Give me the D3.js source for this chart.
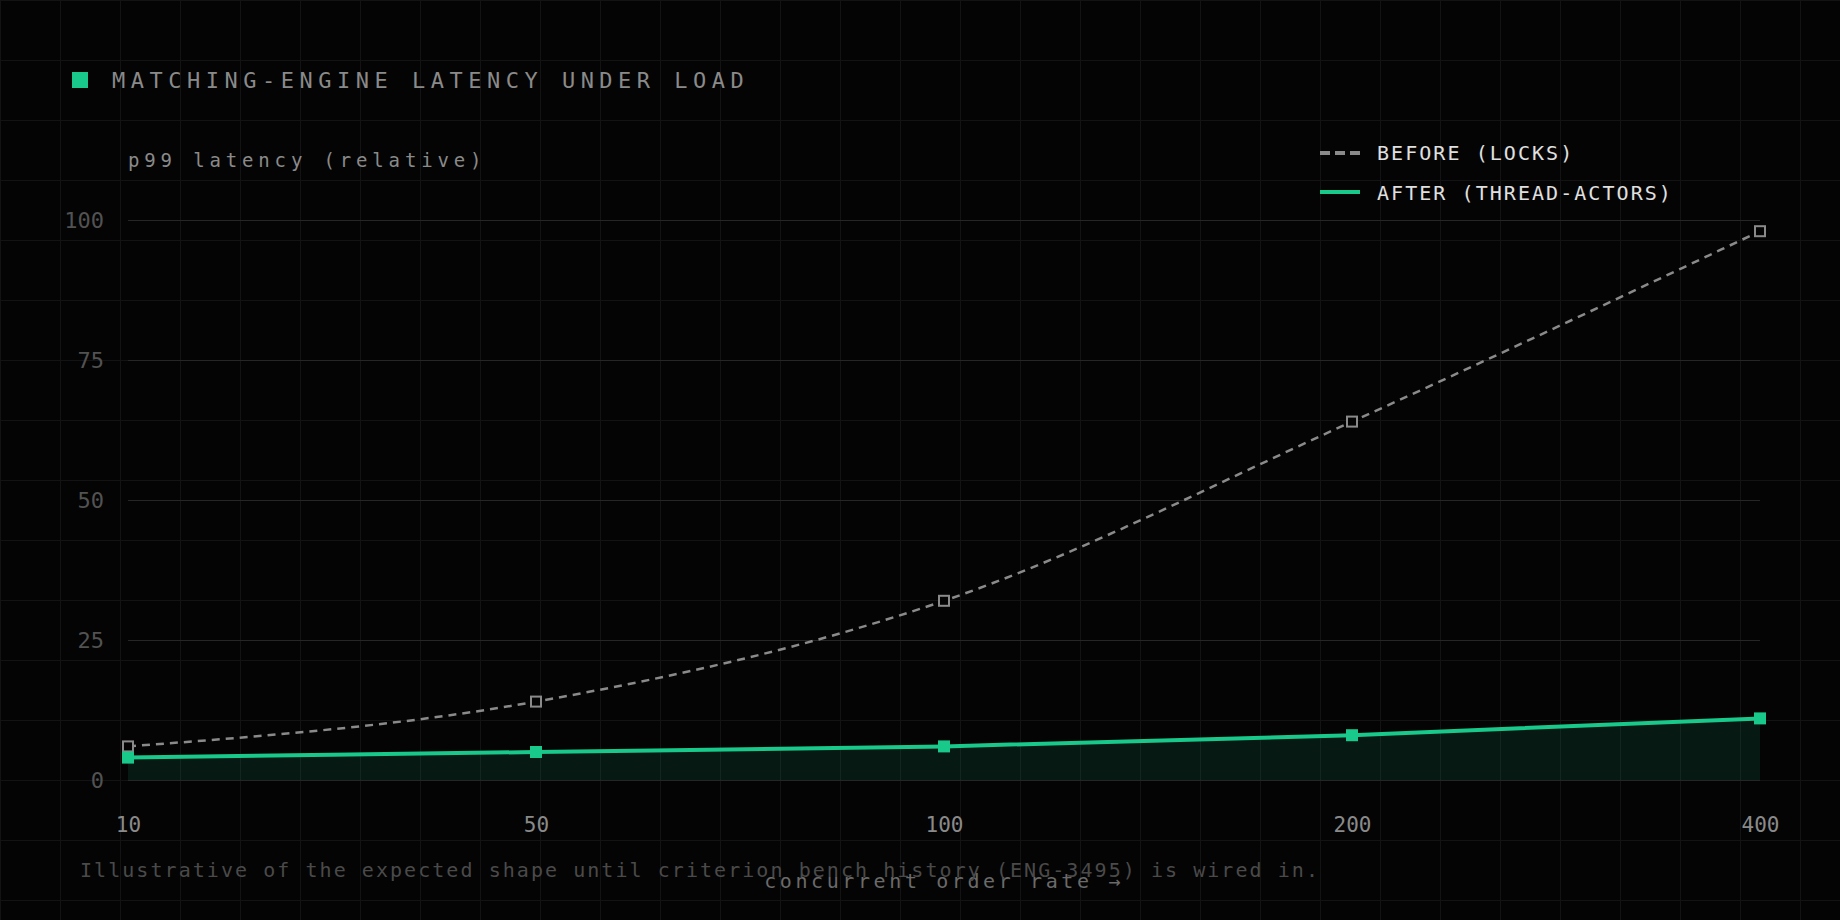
<!DOCTYPE html>
<html>
<head>
<meta charset="utf-8">
<script src="https://cdn.jsdelivr.net/npm/d3@7"></script>
<style>
  html, body { margin: 0; padding: 0; background: #040404; }
  svg { display: block; }
  text { font-family: "DejaVu Sans Mono", monospace; }
  .y.axis .domain, .x.axis .domain { display: none; }
  .y.axis line { stroke: #262626; }
  .x.axis line { display: none; }
</style>
</head>
<body>
<div id="chart"></div>
<script>
      var rates = ["10", "50", "100", "200", "400"];
      var beforeLocks = [6, 14, 32, 64, 98];
      var afterActors = [4, 5, 6, 8, 11];
      var yTicks = [0, 25, 50, 75, 100];

      var width = 1840;
      var height = 920;
      var margin = { top: 220, right: 80, bottom: 140, left: 128 };
      var green = "#19c98b";
      var grey = "#8a8a8a";

      var svg = d3.select("#chart").append("svg")
                  .attr("width", width)
                  .attr("height", height);

      svg.append("rect").attr("width", width).attr("height", height).attr("fill", "#040404");

      // background grid, 60px cells
      var bg = svg.append("g").attr("class", "bg-grid");
      bg.selectAll("line.v").data(d3.range(0, width + 1, 60)).enter().append("line")
        .attr("x1", function(d){ return d + 0.5; }).attr("x2", function(d){ return d + 0.5; })
        .attr("y1", 0).attr("y2", height)
        .attr("stroke", "#131313");
      bg.selectAll("line.h").data(d3.range(0, height + 1, 60)).enter().append("line")
        .attr("y1", function(d){ return d + 0.5; }).attr("y2", function(d){ return d + 0.5; })
        .attr("x1", 0).attr("x2", width)
        .attr("stroke", "#131313");

      var x = d3.scalePoint().domain(rates).range([margin.left, width - margin.right]);
      var y = d3.scaleLinear().domain([0, 100]).range([height - margin.bottom, margin.top]);

      // -----------------------------------
      // Title
      svg.append("rect").attr("x", 72).attr("y", 72).attr("width", 16).attr("height", 16).attr("fill", green);
      svg.append("text").attr("x", 112).attr("y", 88)
         .attr("fill", "#8a8a8a").attr("font-size", 22).attr("letter-spacing", 5.5)
         .text("MATCHING-ENGINE LATENCY UNDER LOAD");

      svg.append("text").attr("x", 128).attr("y", 167)
         .attr("fill", "#8a8a8a").attr("font-size", 19).attr("letter-spacing", 4.85)
         .text("p99 latency (relative)");

      // Axes
      var yAxis = d3.axisLeft(y).tickValues(yTicks).tickSize(-(width - margin.left - margin.right)).tickPadding(24);
      var axisY = svg.append("g").attr("class", "y axis")
                     .attr("transform", "translate(" + margin.left + ",0)")
                     .call(yAxis);
      axisY.selectAll("text").attr("fill", "#525252").attr("font-size", 22)
           .attr("font-family", "DejaVu Sans Mono");

      var xAxis = d3.axisBottom(x).tickSize(0).tickPadding(0);
      var axisX = svg.append("g").attr("class", "x axis")
                     .attr("transform", "translate(0,817)")
                     .call(xAxis);
      axisX.selectAll("text").attr("fill", "#8a8a8a").attr("font-size", 21)
           .attr("font-family", "DejaVu Sans Mono").attr("dy", "0.71em");

      svg.append("text").attr("x", x("100")).attr("y", 888).attr("text-anchor", "middle")
         .attr("fill", "#6a6a6a").attr("font-size", 20).attr("letter-spacing", 3.6)
         .text("concurrent order rate \u2192");

      svg.append("text").attr("x", 80).attr("y", 877)
         .attr("fill", "#4a4a4a").attr("font-size", 20).attr("letter-spacing", 2.05)
         .text("Illustrative of the expected shape until criterion bench history (ENG-3495) is wired in.");

      // -----------------------------------
      var line = d3.line().curve(d3.curveMonotoneX)
                   .x(function(d, i){ return x(rates[i]); })
                   .y(function(d){ return y(d); });
      var area = d3.area().curve(d3.curveMonotoneX)
                   .x(function(d, i){ return x(rates[i]); })
                   .y0(y(0))
                   .y1(function(d){ return y(d); });

      svg.append("path").datum(afterActors)
         .attr("d", area).attr("fill", green).attr("fill-opacity", 0.11);

      svg.append("path").datum(beforeLocks)
         .attr("d", line).attr("fill", "none")
         .attr("stroke", grey).attr("stroke-width", 2.5).attr("stroke-dasharray", "8 6");

      svg.append("path").datum(afterActors)
         .attr("d", line).attr("fill", "none")
         .attr("stroke", green).attr("stroke-width", 4);

      svg.selectAll("rect.before").data(beforeLocks).enter().append("rect")
         .attr("class", "before")
         .attr("x", function(d, i){ return x(rates[i]) - 5; })
         .attr("y", function(d){ return y(d) - 5; })
         .attr("width", 10).attr("height", 10)
         .attr("fill", "#040404").attr("stroke", grey).attr("stroke-width", 2);

      svg.selectAll("rect.after").data(afterActors).enter().append("rect")
         .attr("class", "after")
         .attr("x", function(d, i){ return x(rates[i]) - 6; })
         .attr("y", function(d){ return y(d) - 6; })
         .attr("width", 12).attr("height", 12)
         .attr("fill", green);

      // Legend
      var legend = svg.append("g").attr("transform", "translate(1320,153)");
      legend.append("line").attr("x1", 0).attr("x2", 40).attr("y1", 0).attr("y2", 0)
            .attr("stroke", grey).attr("stroke-width", 4).attr("stroke-dasharray", "10 5");
      legend.append("text").attr("x", 57).attr("y", 7)
            .attr("fill", "#e0e0e0").attr("font-size", 20).attr("letter-spacing", 2.05)
            .text("BEFORE (LOCKS)");
      legend.append("line").attr("x1", 0).attr("x2", 40).attr("y1", 39).attr("y2", 39)
            .attr("stroke", green).attr("stroke-width", 4);
      legend.append("text").attr("x", 57).attr("y", 47)
            .attr("fill", "#e0e0e0").attr("font-size", 20).attr("letter-spacing", 2.05)
            .text("AFTER (THREAD-ACTORS)");
</script>
</body>
</html>
